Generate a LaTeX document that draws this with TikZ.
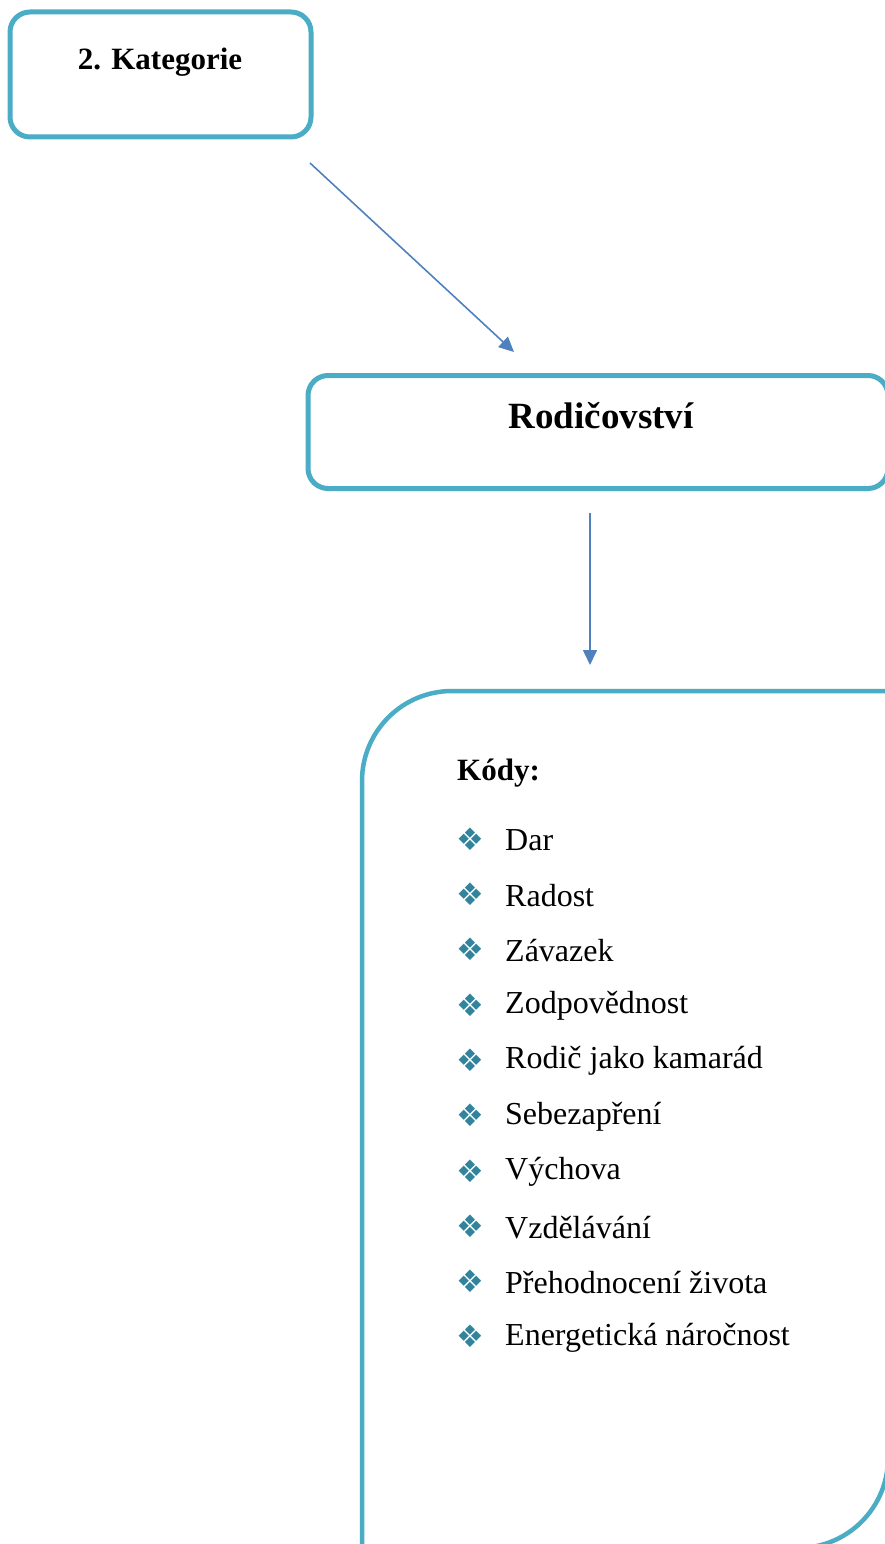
\documentclass[tikz,border=0pt]{standalone}
\usepackage{fontspec}
\setmainfont{Liberation Serif}
\newfontfamily\dejavu{DejaVu Sans}
\usetikzlibrary{arrows.meta}
\definecolor{boxblue}{HTML}{4BACC6}
\definecolor{arrblue}{HTML}{4F81BD}
\definecolor{bullteal}{HTML}{31849B}
\tikzset{
  catbox/.style={draw=boxblue, line width=5pt, rounded corners=20pt, fill=white, inner sep=0pt},
  codebox/.style={draw=boxblue, line width=4.5pt},
  conn/.style={draw=arrblue, line width=1.6pt, -{Triangle[length=15pt,width=14pt]}},
  bul/.style={font=\dejavu\fontsize{31}{31}\selectfont, text=bullteal, inner sep=0pt},
  item/.style={font=\fontsize{32}{32}\selectfont, anchor=west, inner sep=0pt}
}
\begin{document}
\begin{tikzpicture}[x=1pt,y=-1pt]
\useasboundingbox (0,0) rectangle (885,1544);
\begin{scope}
\clip (0,0) rectangle (885,1544);
\node[catbox, minimum width=301pt, minimum height=125pt] (k2) at (160.5,74.5) {};
\node[font=\bfseries\fontsize{31}{31}\selectfont] (k2t) at (160,62) {2. Kategorie};
\node[catbox, minimum width=580pt, minimum height=113pt] (rod) at (598,432) {};
\node[font=\bfseries\fontsize{37}{37}\selectfont] (rodt) at (601,416) {Rodičovství};
\draw[codebox] (362,1560) -- (362,781) arc[start angle=180,end angle=90,radius=90pt]
  -- (888,691) -- (888,1458) arc[start angle=0,end angle=-90,radius=90pt] -- (350,1548) -- cycle;
\coordinate (kod) at (625,1119);
\coordinate (a1s) at (310,163);
\coordinate (a1e) at (514,352);
\coordinate (a2s) at (590,513);
\coordinate (a2e) at (590,665);
\draw[conn] (a1s) -- (a1e);
\draw[conn] (a2s) -- (a2e);
\node[font=\bfseries\fontsize{31}{31}\selectfont, anchor=base west, inner sep=0pt] (kody) at (457,780) {Kódy:};
\foreach \t [count=\i] in {Dar,Radost,Závazek,Zodpovědnost,Rodič jako kamarád,Sebezapření,Výchova,Vzdělávání,Přehodnocení života,Energetická náročnost}{
  \node[bul] (b\i) at (470,{839+55.3*(\i-1)}) {❖};
  \node[item] (t\i) at (505,{840+55.3*(\i-1)}) {\t};
}
\end{scope}
\end{tikzpicture}
\end{document}
